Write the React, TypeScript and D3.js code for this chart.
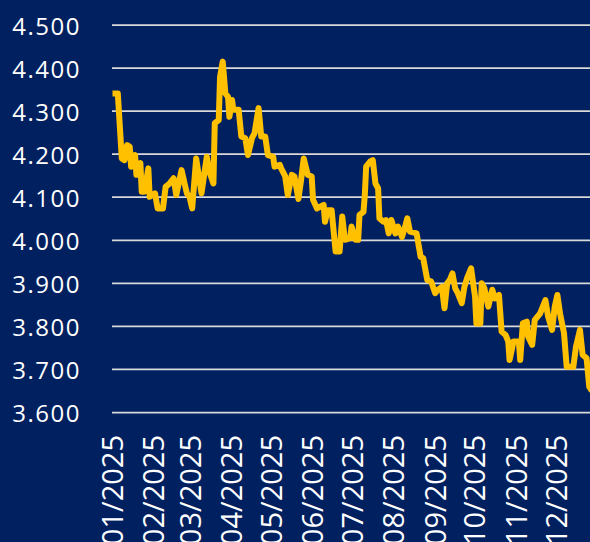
import React from "react";
import * as d3 from "d3";

const dates: string[] = [
  "2025-01-01","2025-01-05","2025-01-08","2025-01-10","2025-01-12","2025-01-14","2025-01-15","2025-01-18","2025-01-19","2025-01-22",
  "2025-01-23","2025-01-25","2025-01-28","2025-01-29","2025-02-02","2025-02-04","2025-02-08","2025-02-10","2025-02-13","2025-02-16",
  "2025-02-18","2025-02-22","2025-02-26","2025-02-28","2025-03-02","2025-03-05","2025-03-09","2025-03-13","2025-03-15","2025-03-18",
  "2025-03-19","2025-03-22","2025-03-23","2025-03-25","2025-03-27","2025-03-29","2025-03-30","2025-04-01","2025-04-02","2025-04-06",
  "2025-04-08","2025-04-11","2025-04-13","2025-04-16","2025-04-18","2025-04-21","2025-04-23","2025-04-26","2025-04-28","2025-05-02",
  "2025-05-03","2025-05-07","2025-05-08","2025-05-11","2025-05-13","2025-05-16","2025-05-18","2025-05-21","2025-05-23","2025-05-25",
  "2025-05-28","2025-05-31","2025-06-01","2025-06-04","2025-06-09","2025-06-10","2025-06-12","2025-06-15","2025-06-18","2025-06-21",
  "2025-06-23","2025-06-25","2025-06-29","2025-06-30","2025-07-03","2025-07-05","2025-07-06","2025-07-09","2025-07-10","2025-07-11",
  "2025-07-14","2025-07-16","2025-07-18","2025-07-20","2025-07-21","2025-07-24","2025-07-26","2025-07-28","2025-07-30","2025-08-02",
  "2025-08-04","2025-08-07","2025-08-09","2025-08-11","2025-08-13","2025-08-18","2025-08-21","2025-08-23","2025-08-26","2025-08-29",
  "2025-09-01","2025-09-03","2025-09-06","2025-09-08","2025-09-10","2025-09-12","2025-09-14","2025-09-16","2025-09-18","2025-09-21",
  "2025-09-23","2025-09-25","2025-09-28","2025-10-01","2025-10-02","2025-10-05","2025-10-06","2025-10-08","2025-10-11","2025-10-14",
  "2025-10-16","2025-10-19","2025-10-21","2025-10-24","2025-10-26","2025-10-27","2025-10-30","2025-11-03","2025-11-04","2025-11-06",
  "2025-11-09","2025-11-10","2025-11-13","2025-11-15","2025-11-19","2025-11-23","2025-11-25","2025-11-28","2025-11-30","2025-12-02",
  "2025-12-04","2025-12-07","2025-12-09","2025-12-14","2025-12-16","2025-12-19","2025-12-21","2025-12-24","2025-12-26","2025-12-28"
];

const values: number[] = [
  4.341,4.341,4.190,4.186,4.221,4.217,4.171,4.198,4.152,4.179,
  4.113,4.113,4.167,4.101,4.109,4.074,4.074,4.124,4.132,4.144,
  4.105,4.163,4.109,4.101,4.074,4.190,4.109,4.194,4.159,4.132,
  4.272,4.279,4.380,4.415,4.341,4.333,4.287,4.326,4.303,4.303,
  4.241,4.237,4.198,4.237,4.249,4.307,4.241,4.241,4.198,4.194,
  4.171,4.175,4.167,4.149,4.105,4.152,4.148,4.096,4.140,4.190,
  4.152,4.148,4.094,4.074,4.082,4.043,4.070,4.070,3.974,3.974,
  4.055,4.001,4.005,4.032,4.001,4.001,4.059,4.066,4.105,4.171,
  4.183,4.186,4.132,4.121,4.051,4.043,4.047,4.016,4.047,4.016,
  4.032,4.008,4.028,4.051,4.020,4.016,3.962,3.958,3.908,3.904,
  3.877,3.885,3.892,3.842,3.900,3.908,3.923,3.889,3.877,3.854,
  3.892,3.912,3.935,3.869,3.807,3.807,3.900,3.889,3.846,3.885,
  3.865,3.873,3.788,3.780,3.765,3.722,3.765,3.765,3.722,3.807,
  3.811,3.776,3.757,3.815,3.830,3.861,3.823,3.792,3.846,3.873,
  3.830,3.784,3.706,3.706,3.753,3.792,3.734,3.726,3.660,3.650
];

const yTicks: number[] = [3.6, 3.7, 3.8, 3.9, 4.0, 4.1, 4.2, 4.3, 4.4, 4.5];
const monthLabels: string[] = [
  "01/2025","02/2025","03/2025","04/2025","05/2025","06/2025",
  "07/2025","08/2025","09/2025","10/2025","11/2025","12/2025"
];

const W = 590;
const H = 542;
const BG = "#002060";
const LINE = "#FFC000";
const GRID = "#D9D9D9";
const FONT = "'Open Sans', 'Noto Sans', sans-serif";

export default function App() {
  const parse = d3.timeParse("%Y-%m-%d");
  const data = dates.map((d, i) => ({ date: parse(d) as Date, v: values[i] }));

  const x = d3
    .scaleTime()
    .domain([new Date(2025, 0, 1), new Date(2025, 11, 31)])
    .range([112.5, 112.5 + 364 * 1.328]);
  const y = d3.scaleLinear().domain([3.6, 4.5]).range([412.5, 25]);

  const months = d3.timeMonth.range(new Date(2025, 0, 1), new Date(2026, 0, 1));
  const line = d3
    .line<{ date: Date; v: number }>()
    .x((d) => x(d.date))
    .y((d) => y(d.v));

  const fmt = d3.format(".3f");
  const yFs = 24;
  const xFs = 29;

  return (
    <svg
      width={W}
      height={H}
      style={{ position: "absolute", left: 0, top: 0, display: "block" }}
    >
      <rect x={0} y={0} width={W} height={H} fill={BG} />
      {yTicks.map((t) => (
        <g key={t}>
          <line x1={112} x2={W} y1={y(t)} y2={y(t)} stroke={GRID} strokeWidth={1.75} />
          <text
            x={81}
            y={y(t) + 1}
            dy="0.36em"
            textAnchor="end"
            fill="#ffffff"
            fontFamily={FONT}
            fontSize={yFs}
            letterSpacing={1.5}
          >
            {fmt(t)}
          </text>
        </g>
      ))}
      {months.map((m, i) => (
        <text
          key={i}
          transform={`translate(${x(m)},435) rotate(-90)`}
          dy="0.36em"
          textAnchor="end"
          fill="#ffffff"
          fontFamily={FONT}
          fontSize={xFs}
        >
          {monthLabels[i]}
        </text>
      ))}
      <path
        d={line(data) || ""}
        fill="none"
        stroke={LINE}
        strokeWidth={6}
        strokeLinejoin="round"
        strokeLinecap="butt"
      />
    </svg>
  );
}
